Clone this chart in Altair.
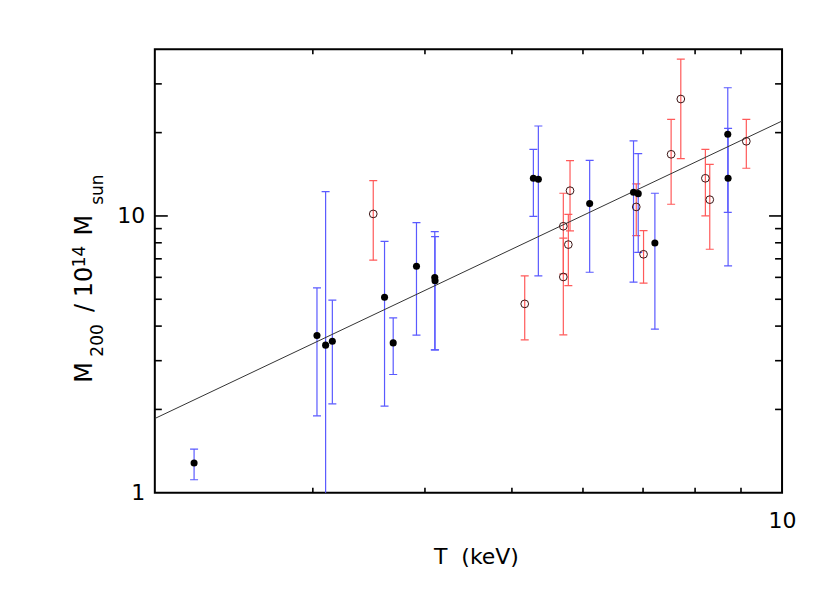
import altair as alt
import pandas as pd

# ---- data ----
# filled circles, blue error bars
f_T  = [2.212, 3.032, 3.100, 3.154, 3.606, 3.687, 3.914, 4.102, 4.105, 5.283, 5.351,
        6.104, 6.831, 6.914, 7.216, 8.700, 8.707]
f_M  = [1.280, 3.698, 3.414, 3.529, 5.088, 3.479, 6.58, 5.99, 5.83, 13.68, 13.57,
        11.08, 12.18, 12.04, 7.99, 19.72, 13.68]
f_hi = [1.438, 5.497, 12.24, 4.963, 8.10, 4.283, 9.46, 8.78, 8.42, 17.41, 21.13,
        15.89, 18.66, 16.79, 12.08, 29.05, 20.73]
f_lo = [1.114, 1.897, 0.80, 2.096, 2.056, 2.674, 3.71, 3.282, 3.282, 9.97, 6.07,
        6.26, 5.763, 7.39, 3.90, 10.31, 6.60]

# open circles, red error bars
o_T  = [3.503, 5.167, 5.804, 5.705, 5.779, 5.705, 6.879, 7.009, 7.523, 7.712, 8.214, 8.307, 9.124]
o_M  = [10.17, 4.812, 12.34, 9.18, 7.88, 6.02, 10.78, 7.27, 16.70, 26.45, 13.68, 11.45, 18.61]
o_hi = [13.41, 6.07, 15.84, 12.08, 10.14, 8.31, 13.05, 8.85, 22.34, 36.88, 17.41, 15.37, 22.34]
o_lo = [6.92, 3.567, 8.83, 6.17, 5.60, 3.72, 8.49, 5.715, 11.02, 16.10, 10.0, 7.58, 14.87]

# fitted power law (end points)
fit_T = [2.0, 10.0]
fit_M = [1.854, 22.03]

# tick positions
x_minor = [3, 4, 5, 6, 7, 8, 9]
y_major = [10]
y_minor = [2, 3, 4, 5, 6, 7, 8, 9, 20, 30]
x_labels = [10]
y_labels = [1, 10]

W, H = 628, 444
FONT = "DejaVu Sans"
BLUE = "#5a5aff"
RED = "#ff5a5a"

filled = pd.DataFrame({"T": f_T, "M": f_M, "hi": f_hi, "lo": f_lo})
opened = pd.DataFrame({"T": o_T, "M": o_M, "hi": o_hi, "lo": o_lo})
fit = pd.DataFrame({"T": fit_T, "M": fit_M})

xs = alt.Scale(type="log", domain=[2, 10], nice=False)
ys = alt.Scale(type="log", domain=[1, 40], nice=False)

x_enc = alt.X("T:Q", scale=xs, axis=alt.Axis(values=x_labels, title=None, ticks=False, domain=False,
                                              grid=False, labelFont=FONT, labelFontSize=22,
                                              labelColor="black", labelPadding=18, labelFlush=False,
                                              format="d"))
y_enc = alt.Y("M:Q", scale=ys, axis=alt.Axis(values=y_labels, title=None, ticks=False, domain=False,
                                              grid=False, labelFont=FONT, labelFontSize=22,
                                              labelColor="black", labelPadding=10, format="d"))


def errbars(df, color):
    base = alt.Chart(df)
    bar = base.mark_rule(color=color, strokeWidth=1.2, clip=True).encode(
        x=x_enc, y=alt.Y("lo:Q", scale=ys), y2="hi:Q")
    cap_hi = base.mark_tick(orient="horizontal", size=8, thickness=1.2, color=color, clip=True,
                            opacity=1).encode(x=x_enc, y=alt.Y("hi:Q", scale=ys))
    cap_lo = base.mark_tick(orient="horizontal", size=8, thickness=1.2, color=color, clip=True,
                            opacity=1).encode(x=x_enc, y=alt.Y("lo:Q", scale=ys))
    return [bar, cap_hi, cap_lo]


layers = []
layers += errbars(opened, RED)
layers += errbars(filled, BLUE)

layers.append(alt.Chart(fit).mark_line(color="#333333", strokeWidth=1, clip=True).encode(x=x_enc, y=y_enc))

layers.append(alt.Chart(opened).mark_point(shape="circle", filled=False, size=60, strokeWidth=1,
                                           color="#3a1414", opacity=1).encode(x=x_enc, y=y_enc))
layers.append(alt.Chart(filled).mark_circle(size=50, color="black", opacity=1).encode(x=x_enc, y=y_enc))

# inward ticks
ymaj = pd.DataFrame({"M": y_major})
ymin = pd.DataFrame({"M": y_minor})
xmin = pd.DataFrame({"T": x_minor})
tick_style = dict(color="black", strokeWidth=1.6)
for df, ln in [(ymaj, 13), (ymin, 7)]:
    layers.append(alt.Chart(df).mark_rule(**tick_style).encode(
        y=y_enc, x=alt.value(0), x2=alt.value(ln)))
    layers.append(alt.Chart(df).mark_rule(**tick_style).encode(
        y=y_enc, x=alt.value(W - ln), x2=alt.value(W)))
layers.append(alt.Chart(xmin).mark_rule(**tick_style).encode(
    x=x_enc, y=alt.value(H - 5), y2=alt.value(H)))
layers.append(alt.Chart(xmin).mark_rule(**tick_style).encode(
    x=x_enc, y=alt.value(0), y2=alt.value(5)))

# titles
one = pd.DataFrame({"a": [0]})
layers.append(alt.Chart(one).mark_text(text="T\u00a0\u00a0(keV)", font=FONT, fontSize=22, color="black",
                                       align="center", baseline="middle").encode(
    x=alt.value(322), y=alt.value(508)))

# y title pieces, each centred in its slot (page y -> plot y = page - 49)
ytitle = [("M", 24, -63, 323.5), ("200", 17, -52, 291.5), ("/", 24, -63, 259), ("10", 24, -63, 233),
          ("14", 17, -70, 207.5), ("M", 24, -63, 176), ("sun", 17, -52, 140.5)]
for txt, fs, xx, yy in ytitle:
    layers.append(alt.Chart(one).mark_text(text=txt, font=FONT, fontSize=fs, color="black", angle=270,
                                           align="center", baseline="alphabetic").encode(
        x=alt.value(xx), y=alt.value(yy)))

chart = alt.layer(*layers).properties(
    width=W, height=H,
    autosize=alt.AutoSizeParams(type="none"),
    padding={"left": 147, "top": 41, "right": 40, "bottom": 80},
    background="white",
).configure_view(stroke="black", strokeWidth=2)

chart.save("out.html", embed_options={"renderer": "svg", "actions": False})
